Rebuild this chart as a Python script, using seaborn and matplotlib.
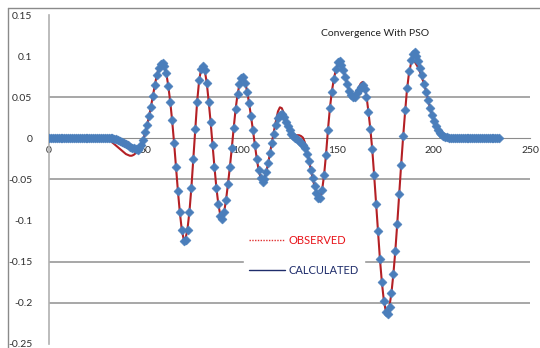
import matplotlib
matplotlib.use("Agg")
import matplotlib.pyplot as plt
from matplotlib.lines import Line2D
import seaborn as sns
import pandas as pd

# ---------------- data ----------------
x_values = list(range(0, 235))

calculated = [
    0.0, 0.0, 0.0, 0.0, 0.0, 0.0, 0.0, 0.0, 0.0, 0.0,
    0.0, 0.0, 0.0, 0.0, 0.0, 0.0, 0.0, 0.0, 0.0, 0.0,
    0.0, 0.0, 0.0, 0.0, 0.0, 0.0, 0.0, 0.0, 0.0, 0.0,
    0.0, 0.0, 0.0, 0.0, -0.0005, -0.001, -0.002, -0.003, -0.004, -0.0055,
    -0.007, -0.0085, -0.010, -0.011, -0.012, -0.013, -0.0135, -0.012, -0.008, -0.002,
    0.008, 0.017, 0.027, 0.039, 0.052, 0.065, 0.077, 0.086, 0.091, 0.092,
    0.089, 0.080, 0.064, 0.045, 0.022, -0.005, -0.035, -0.064, -0.090, -0.112,
    -0.125, -0.124, -0.112, -0.090, -0.060, -0.025, 0.012, 0.045, 0.071, 0.085,
    0.089, 0.083, 0.068, 0.045, 0.020, -0.008, -0.035, -0.060, -0.080, -0.094,
    -0.098, -0.090, -0.075, -0.056, -0.035, -0.012, 0.013, 0.036, 0.054, 0.066,
    0.074, 0.075, 0.068, 0.057, 0.043, 0.027, 0.010, -0.008, -0.025, -0.039,
    -0.048, -0.053, -0.050, -0.041, -0.030, -0.018, -0.006, 0.006, 0.017, 0.025,
    0.029, 0.030, 0.026, 0.020, 0.015, 0.010, 0.006, 0.003, 0.001, -0.001,
    -0.003, -0.005, -0.008, -0.012, -0.019, -0.028, -0.038, -0.048, -0.058, -0.066,
    -0.072, -0.072, -0.063, -0.045, -0.020, 0.010, 0.037, 0.057, 0.073, 0.085,
    0.093, 0.094, 0.090, 0.084, 0.075, 0.066, 0.058, 0.053, 0.050, 0.051,
    0.055, 0.059, 0.063, 0.065, 0.060, 0.050, 0.032, 0.012, -0.013, -0.045,
    -0.080, -0.113, -0.147, -0.175, -0.198, -0.211, -0.214, -0.205, -0.188, -0.165,
    -0.137, -0.104, -0.068, -0.032, 0.003, 0.035, 0.062, 0.082, 0.096, 0.103,
    0.105, 0.101, 0.094, 0.086, 0.077, 0.067, 0.057, 0.047, 0.037, 0.029,
    0.021, 0.015, 0.010, 0.007, 0.005, 0.003, 0.002, 0.0015, 0.001, 0.001,
    0.001, 0.001, 0.001, 0.001, 0.001, 0.001, 0.001, 0.001, 0.001, 0.001,
    0.001, 0.001, 0.001, 0.001, 0.001, 0.001, 0.001, 0.001, 0.001, 0.001,
    0.001, 0.001, 0.001, 0.001, 0.001,
]

observed = [
    0.0, 0.0, 0.0, 0.0, 0.0, 0.0, 0.0, 0.0, 0.0, 0.0,
    0.0, 0.0, 0.0, 0.0, 0.0, 0.0, 0.0, 0.0, 0.0, 0.0,
    0.0, 0.0, 0.0, 0.0, 0.0, 0.0, 0.0, 0.0, 0.0, 0.0,
    -0.001, -0.002, -0.003, -0.005, -0.007, -0.009, -0.011, -0.013, -0.015, -0.017,
    -0.019, -0.020, -0.021, -0.021, -0.020, -0.018, -0.015, -0.011, -0.006, -0.001,
    0.008, 0.017, 0.027, 0.039, 0.052, 0.065, 0.077, 0.085, 0.089, 0.090,
    0.087, 0.079, 0.064, 0.045, 0.022, -0.005, -0.035, -0.064, -0.090, -0.111,
    -0.123, -0.122, -0.110, -0.089, -0.060, -0.025, 0.012, 0.045, 0.070, 0.084,
    0.088, 0.082, 0.068, 0.045, 0.020, -0.008, -0.035, -0.060, -0.080, -0.093,
    -0.097, -0.090, -0.075, -0.056, -0.035, -0.012, 0.013, 0.036, 0.054, 0.066,
    0.074, 0.074, 0.068, 0.057, 0.043, 0.027, 0.010, -0.008, -0.025, -0.039,
    -0.048, -0.052, -0.049, -0.040, -0.029, -0.016, -0.003, 0.010, 0.022, 0.033,
    0.038, 0.037, 0.031, 0.023, 0.015, 0.009, 0.006, 0.005, 0.004, 0.004,
    0.004, 0.003, 0.001, -0.005, -0.015, -0.026, -0.037, -0.048, -0.058, -0.066,
    -0.072, -0.071, -0.062, -0.044, -0.019, 0.011, 0.037, 0.057, 0.072, 0.083,
    0.090, 0.092, 0.089, 0.083, 0.075, 0.066, 0.058, 0.053, 0.050, 0.052,
    0.057, 0.062, 0.067, 0.069, 0.064, 0.052, 0.033, 0.012, -0.013, -0.045,
    -0.080, -0.113, -0.147, -0.175, -0.197, -0.210, -0.212, -0.204, -0.188, -0.165,
    -0.137, -0.104, -0.068, -0.033, 0.000, 0.030, 0.058, 0.078, 0.090, 0.095,
    0.094, 0.090, 0.086, 0.080, 0.073, 0.066, 0.057, 0.047, 0.037, 0.029,
    0.021, 0.015, 0.010, 0.007, 0.005, 0.003, 0.002, 0.0015, 0.001, 0.001,
    0.001, 0.001, 0.001, 0.001, 0.001, 0.001, 0.001, 0.001, 0.001, 0.001,
    0.001, 0.001, 0.001, 0.001, 0.001, 0.001, 0.001, 0.001, 0.001, 0.001,
    0.001, 0.001, 0.001, 0.001, 0.001,
]

x_ticks = [0, 50, 100, 150, 200, 250]
x_tick_labels = ["0", "50", "100", "150", "200", "250"]
y_ticks = [0.15, 0.1, 0.05, 0.0, -0.05, -0.1, -0.15, -0.2, -0.25]
y_tick_labels = ["0.15", "0.1", "0.05", "0", "-0.05", "-0.1", "-0.15", "-0.2", "-0.25"]
grid_levels = [0.05, -0.05, -0.15, -0.2]
chart_title = "Convergence With PSO"
legend_labels = ["OBSERVED", "CALCULATED"]

# ---------------- style ----------------
sns.set_style("white")
plt.rcParams["font.family"] = ["Lato", "DejaVu Sans"]

df = pd.DataFrame({"x": x_values, "observed": observed, "calculated": calculated})

fig = plt.figure(figsize=(5.4, 3.48), dpi=100)
ax = fig.add_axes([49 / 540, 1 - 343.5 / 348, 481 / 540, 328 / 348])

grid_color = "#a0a0a0"
for lvl in grid_levels:
    ax.axhline(lvl, color=grid_color, lw=1.3, zorder=1)

sns.lineplot(data=df, x="x", y="observed", ax=ax, color="#b42025", lw=1.5,
             zorder=3, legend=False)
sns.scatterplot(data=df, x="x", y="calculated", ax=ax, marker="D", s=21,
                color="#4a7ebb", edgecolor="#4a7ebb", linewidth=0.4,
                zorder=4, legend=False)

ax.set_xlim(0, 250)
ax.set_ylim(-0.25, 0.15)
ax.set_xticks(x_ticks)
ax.set_xticklabels(x_tick_labels)
ax.set_yticks(y_ticks)
ax.set_yticklabels(y_tick_labels)
ax.set_xlabel("")
ax.set_ylabel("")

for side in ["top", "right"]:
    ax.spines[side].set_visible(False)
ax.spines["bottom"].set_position(("data", 0))
ax.spines["bottom"].set_color("#8c8c8c")
ax.spines["bottom"].set_zorder(2)
ax.spines["left"].set_color("#b0b0b0")
ax.spines["left"].set_linewidth(1.2)

ax.tick_params(axis="x", direction="out", length=4, width=0.8, color="#8c8c8c",
               labelsize=7.5, labelcolor="#303030", pad=1.5)
ax.tick_params(axis="y", direction="out", length=4, width=0.8, color="#b0b0b0",
               labelsize=7.5, labelcolor="#303030", pad=8)
ax.set_facecolor("white")

ax.text(0.678, 0.944, chart_title, transform=ax.transAxes, ha="center",
        va="center", fontsize=7.5, color="#222222")

handles = [
    Line2D([], [], color="#e03030", lw=1.0, ls=(0, (1, 1))),
    Line2D([], [], color="#1f2d6b", lw=1.0, ls="-"),
]
leg = ax.legend(handles, legend_labels, loc="upper left",
                bbox_to_anchor=(0.393, 0.365), frameon=True, fancybox=False,
                framealpha=1.0, edgecolor="white", facecolor="white",
                fontsize=8, handlelength=3.2, handletextpad=0.3,
                labelspacing=1.75, borderpad=0.5)
leg.set_zorder(5)
for txt, col in zip(leg.get_texts(), ["#e8141a", "#1f2d6b"]):
    txt.set_color(col)

# outer frame of the image
fig.add_artist(Line2D([8 / 540, 8 / 540], [0, 1 - 8 / 348],
                      transform=fig.transFigure, color="#8a8a8a", lw=1.0))
fig.add_artist(Line2D([8 / 540, 1], [1 - 8 / 348, 1 - 8 / 348],
                      transform=fig.transFigure, color="#8a8a8a", lw=1.0))

fig.savefig("out.png", dpi=100)
